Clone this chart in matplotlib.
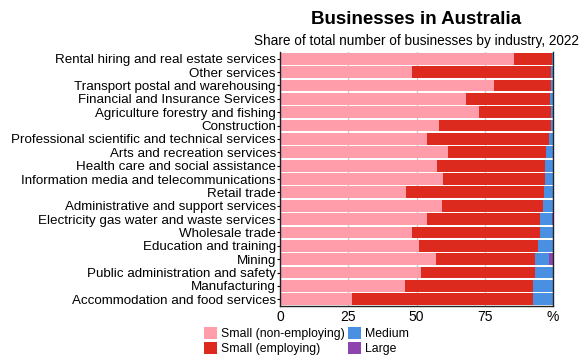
import matplotlib
matplotlib.use("Agg")
import matplotlib.pyplot as plt
import numpy as np

plt.rcParams['font.family'] = ['Liberation Sans', 'DejaVu Sans']

industries = [
    "Rental hiring and real estate services",
    "Other services",
    "Transport postal and warehousing",
    "Financial and Insurance Services",
    "Agriculture forestry and fishing",
    "Construction",
    "Professional scientific and technical services",
    "Arts and recreation services",
    "Health care and social assistance",
    "Information media and telecommunications",
    "Retail trade",
    "Administrative and support services",
    "Electricity gas water and waste services",
    "Wholesale trade",
    "Education and training",
    "Mining",
    "Public administration and safety",
    "Manufacturing",
    "Accommodation and food services",
]
small_nonemp = [85.7, 48.4, 78.4, 68.0, 72.9, 58.2, 53.8, 61.5, 57.5, 59.7,
                46.2, 59.3, 53.8, 48.4, 50.9, 57.1, 51.6, 45.8, 26.4]
small_emp = [14.1, 50.9, 20.9, 30.8, 26.4, 41.1, 44.7, 35.8, 39.6, 37.4,
             50.5, 37.0, 41.4, 46.8, 43.6, 36.3, 41.8, 46.9, 66.3]
medium = [0.15, 0.6, 0.6, 1.1, 0.6, 0.6, 1.4, 2.6, 2.8, 2.8,
          3.2, 3.6, 4.4, 4.7, 5.4, 5.1, 6.5, 7.2, 7.2]
large = [0.05, 0.1, 0.1, 0.1, 0.1, 0.1, 0.1, 0.1, 0.1, 0.1,
         0.1, 0.1, 0.4, 0.1, 0.1, 1.5, 0.1, 0.1, 0.1]

series = [
    ("Small (non-employing)", small_nonemp, "#ff9eaa"),
    ("Small (employing)", small_emp, "#dd2a1f"),
    ("Medium", medium, "#4a90e2"),
    ("Large", large, "#8e44ad"),
]

fig = plt.figure(figsize=(5.81, 3.6), dpi=100)
ax = fig.add_axes([280/581, 1-306/360, 273/581, 254/360])

y = np.arange(len(industries))
left = np.zeros(len(industries))
handles = []
for name, vals, col in series:
    v = np.array(vals)
    h = ax.barh(y, v, left=left, height=0.88, color=col, label=name, zorder=2)
    handles.append(h)
    left += v

ax.set_ylim(len(industries) - 0.5, -0.5)
ax.set_xlim(0, 100)
ax.set_yticks(y)
ax.set_yticklabels(industries, fontsize=9.6)
ax.set_xticks([0, 25, 50, 75, 100])
ax.set_xticklabels(["0", "25", "50", "75", "%"], fontsize=10)
ax.tick_params(axis='y', length=2, pad=1)
ax.tick_params(axis='x', length=0, pad=3)
ax.grid(axis='x', color='#cccccc', linewidth=1, zorder=0)
ax.set_axisbelow(True)
for s in ['left', 'bottom', 'right']:
    ax.spines[s].set_color('#222222')
    ax.spines[s].set_linewidth(1)
ax.spines['top'].set_visible(False)

fig.text(416/581, 1-20/360, "Businesses in Australia", ha='center', va='center',
         fontsize=13.5, fontweight='bold')
fig.text(416/581, 1-41/360, "Share of total number of businesses by industry, 2022",
         ha='center', va='center', fontsize=9.8)

fig.legend(handles=handles, loc='upper left', bbox_to_anchor=(204/581, 1-327/360),
           ncol=2, frameon=False, fontsize=8.8, handlelength=1.1, handleheight=1.1,
           handletextpad=0.3, columnspacing=0.25, labelspacing=0.15, borderaxespad=0,
           borderpad=0)

fig.savefig("out.png", dpi=100)
